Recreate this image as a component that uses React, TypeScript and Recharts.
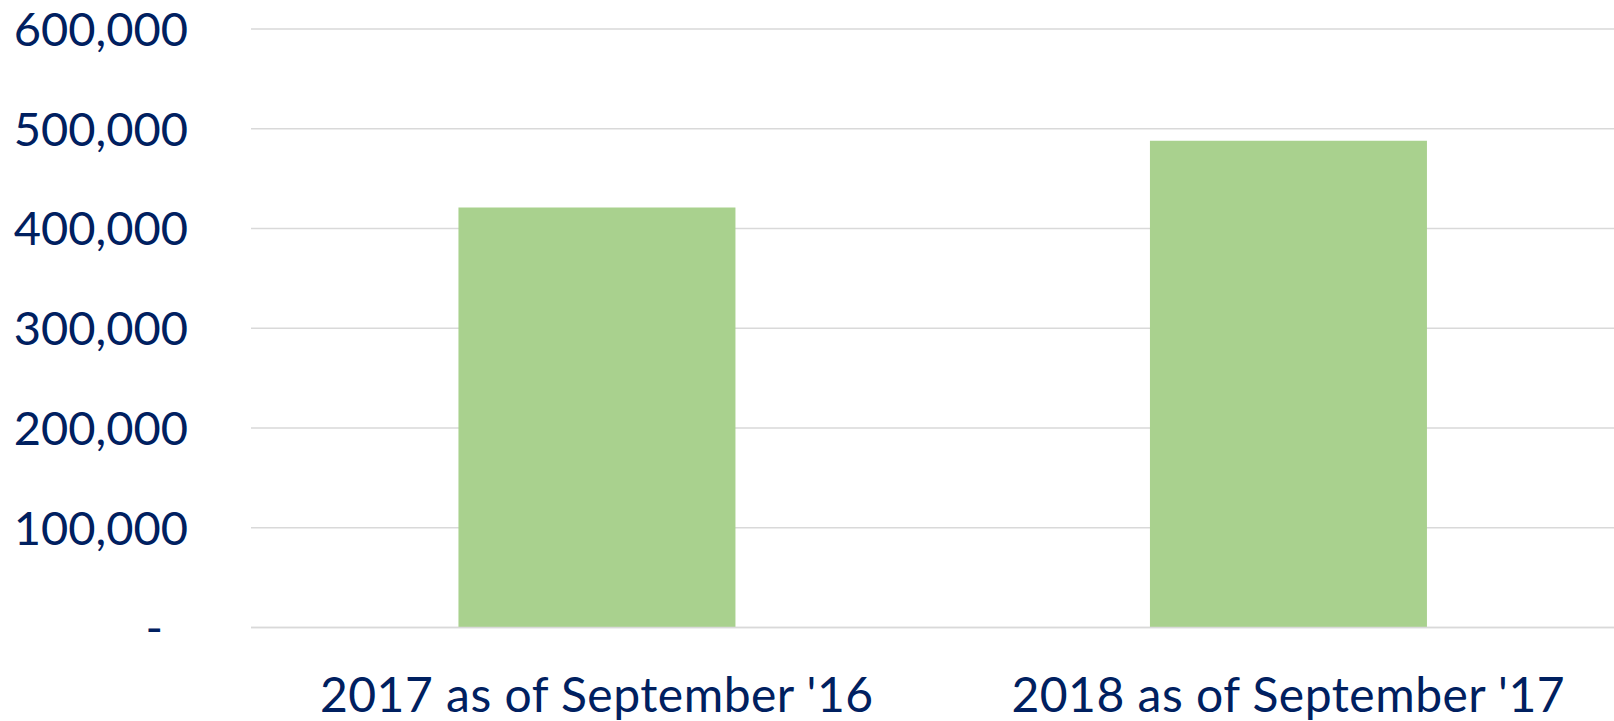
import { BarChart, Bar, XAxis, YAxis, CartesianGrid } from "recharts";

const CATEGORIES = ["2017 as of September '16", "2018 as of September '17"];
const VALUES = [421000, 488000];
const Y_TICKS = [0, 100000, 200000, 300000, 400000, 500000, 600000];

const data = CATEGORIES.map((name, i) => ({ name, value: VALUES[i] }));

const TEXT = "#002060";
const FONT = "Lato, 'Open Sans', sans-serif";

function YTick(props: any) {
  const { x, y, payload } = props;
  const v = payload.value as number;
  // zero is shown as a dash, accounting style
  return (
    <text
      x={v === 0 ? x - 25 : x}
      y={y}
      dy="0.36em"
      textAnchor="end"
      fill={TEXT}
      fontSize={47}
      fontFamily={FONT}
    >
      {v === 0 ? "-" : v.toLocaleString("en-US")}
    </text>
  );
}

export default function App() {
  return (
    <div style={{ position: "fixed", left: 0, top: 0, width: 1614, height: 721, overflow: "hidden", background: "#fff" }}>
      <BarChart
        width={1640}
        height={721}
        data={data}
        margin={{ top: 29, right: 6, left: 0, bottom: 0 }}
        barCategoryGap="30%"
      >
        <CartesianGrid vertical={false} stroke="#d9d9d9" strokeWidth={1.5} />
        <XAxis
          dataKey="name"
          height={93.5}
          tickSize={0}
          tickMargin={50}
          axisLine={{ stroke: "#d9d9d9", strokeWidth: 1.5 }}
          tick={{ fill: TEXT, fontSize: 48, fontFamily: FONT, letterSpacing: 0.5 }}
          interval={0}
        />
        <YAxis
          width={251}
          domain={[0, 600000]}
          ticks={Y_TICKS}
          axisLine={false}
          tickSize={0}
          tickMargin={63}
          tick={<YTick />}
          interval={0}
        />
        <Bar dataKey="value" fill="#a9d18e" isAnimationActive={false} />
      </BarChart>
    </div>
  );
}
